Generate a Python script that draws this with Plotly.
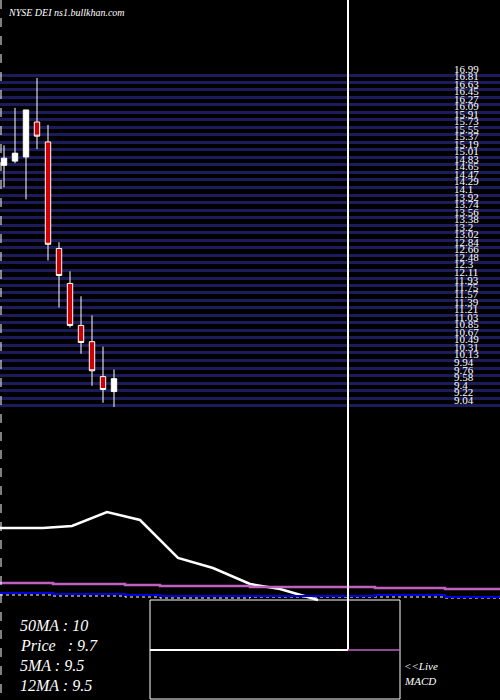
import plotly.graph_objects as go

# daily candles (price units)
opens  = [14.82, 14.92, 15.02, 15.86, 15.38, 12.82, 11.98, 10.97, 10.58, 9.74, 9.38]
highs  = [15.30, 16.20, 16.15, 16.92, 15.79, 12.97, 12.27, 11.67, 11.21, 10.46, 9.91]
lows   = [14.29, 14.87, 14.00, 15.21, 12.53, 11.40, 10.92, 10.29, 9.52, 9.11, 9.01]
closes = [14.99, 15.11, 16.15, 15.52, 12.92, 12.17, 10.97, 10.56, 9.88, 9.43, 9.69]
days   = list(range(len(opens)))

price_labels = [16.99, 16.81, 16.63, 16.45, 16.27, 16.09, 15.91, 15.73, 15.55, 15.37, 15.19,
                15.01, 14.83, 14.65, 14.47, 14.29, 14.1, 13.92, 13.74, 13.56, 13.38, 13.2,
                13.02, 12.84, 12.66, 12.48, 12.3, 12.11, 11.93, 11.75, 11.57, 11.39, 11.21,
                11.03, 10.85, 10.67, 10.49, 10.31, 10.13, 9.94, 9.76, 9.58, 9.4, 9.22, 9.04]

# lower indicator panel (panel units, 0 = top of image)
ind_x      = [0, 43, 72, 107, 140, 178, 213, 250, 280, 318]
macd_line  = [528, 528, 526, 512, 520, 558, 568, 584, 589, 600]
sig_x      = [0, 53, 125, 160, 250, 375, 445, 500]
sig_line   = [583, 584, 585, 586, 587, 588, 589, 589]
blue_line  = [593, 594, 595, 596, 596, 595, 597, 598]
dot_line   = [595, 596, 597, 598, 597, 597, 598, 599]

legend_lines = ["50MA : 10", "Price   : 9.7", "5MA : 9.5", "12MA : 9.5"]

SERIF = "Liberation Serif"

fig = go.Figure()
fig.add_trace(go.Candlestick(x=days, open=opens, high=highs, low=lows, close=closes,
                             increasing=dict(line=dict(color="white", width=1), fillcolor="white"),
                             decreasing=dict(line=dict(color="white", width=1), fillcolor="#cc0000"),
                             whiskerwidth=0))
fig.add_trace(go.Scatter(x=ind_x, y=macd_line, xaxis="x2", yaxis="y2", mode="lines",
                         line=dict(color="white", width=2.5)))
fig.add_trace(go.Scatter(x=sig_x, y=sig_line, xaxis="x2", yaxis="y2", mode="lines",
                         line=dict(color="#c060c0", width=2.5, shape="hv")))
fig.add_trace(go.Scatter(x=sig_x, y=dot_line, xaxis="x2", yaxis="y2", mode="lines",
                         line=dict(color="white", width=1, dash="dot", shape="hv")))
fig.add_trace(go.Scatter(x=sig_x, y=blue_line, xaxis="x2", yaxis="y2", mode="lines",
                         line=dict(color="#0000dd", width=2, shape="hv")))

for v in price_labels:
    fig.add_annotation(x=452, y=v, xref="x2", yref="y", text=str(v), showarrow=False,
                       xanchor="left", yanchor="bottom", yshift=-2,
                       font=dict(family=SERIF, size=11, color="white"))

for i, t in enumerate(legend_lines):
    fig.add_annotation(x=18, y=625 + 20 * i, xref="x2", yref="y2", text="<i>" + t + "</i>",
                       showarrow=False, xanchor="left",
                       font=dict(family=SERIF, size=16, color="white"))
fig.add_annotation(x=402, y=666, xref="x2", yref="y2", text="<i><<Live</i>", showarrow=False,
                   xanchor="left", font=dict(family=SERIF, size=11, color="white"))
fig.add_annotation(x=402, y=681, xref="x2", yref="y2", text="<i>MACD</i>", showarrow=False,
                   xanchor="left", font=dict(family=SERIF, size=11, color="white"))
fig.add_annotation(x=6, y=12, xref="x2", yref="y2", text="<i>NYSE DEI ns1.bullkhan.com</i>",
                   showarrow=False, xanchor="left", font=dict(family=SERIF, size=10, color="white"))

shapes = [
    dict(type="line", x0=1, x1=1, y0=0, y1=700, line=dict(color="white", width=1, dash="dash")),
    dict(type="rect", x0=150, x1=400, y0=600, y1=699, line=dict(color="white", width=1)),
    dict(type="line", x0=348, x1=348, y0=0, y1=650, line=dict(color="white", width=2)),
    dict(type="line", x0=150, x1=348, y0=650, y1=650, line=dict(color="white", width=2)),
    dict(type="line", x0=348, x1=400, y0=650, y1=650, line=dict(color="#c060c0", width=1.5)),
]
for s in shapes:
    s.update(xref="x2", yref="y2")

fig.update_layout(
    width=500, height=700, margin=dict(l=0, r=0, t=0, b=0),
    paper_bgcolor="black", plot_bgcolor="black", showlegend=False, shapes=shapes,
    xaxis=dict(range=[-4 / 11, 496 / 11], visible=False, rangeslider=dict(visible=False)),
    yaxis=dict(range=[16.99 - 625 / 41.6, 16.99 + 75 / 41.6], tickvals=price_labels,
               showticklabels=False, showgrid=True, gridcolor="#1c1c5a", gridwidth=3, zeroline=False),
    xaxis2=dict(range=[0, 500], overlaying="x", visible=False),
    yaxis2=dict(range=[700, 0], overlaying="y", visible=False),
)
fig.write_html("out.html", config={"displayModeBar": False},
               post_script="document.body.style.margin='0';document.body.style.background='black';")
